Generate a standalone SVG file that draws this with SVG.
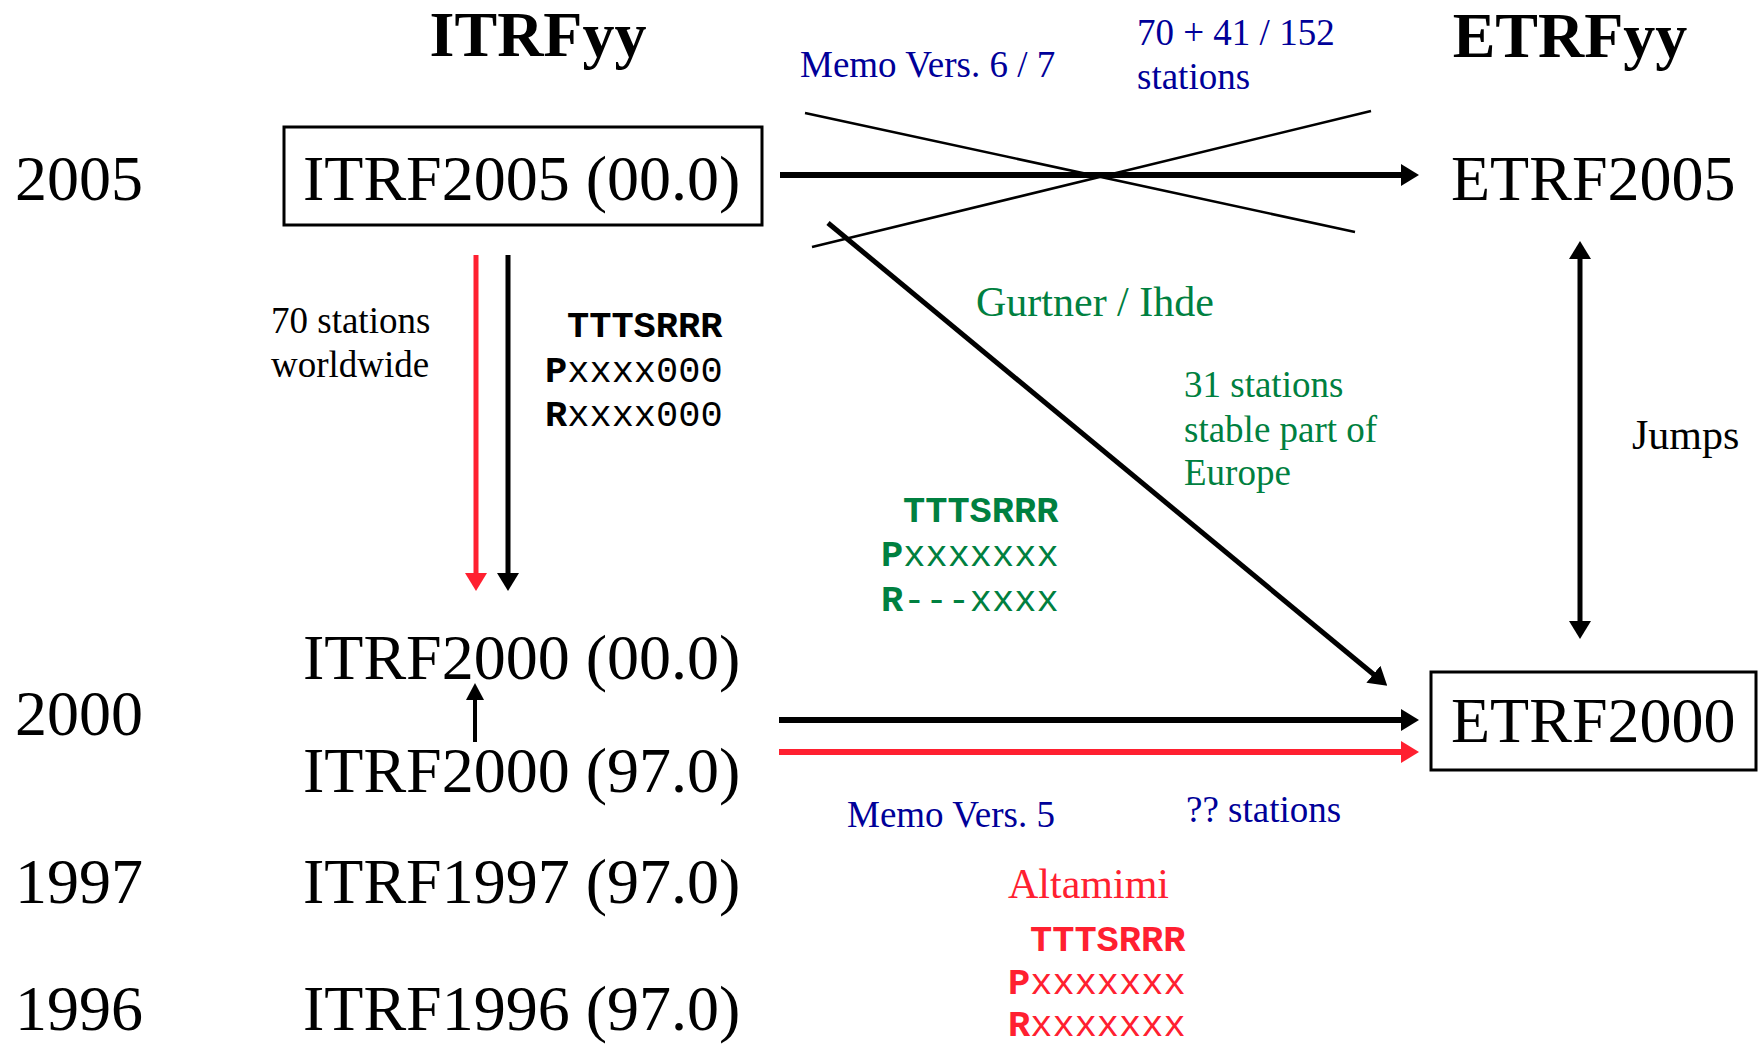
<svg xmlns="http://www.w3.org/2000/svg" width="1759" height="1044" viewBox="0 0 1759 1044">
  <style>
    text { font-family: "Liberation Serif", "Times New Roman", serif; }
    .title { font-size: 64px; font-weight: bold; fill: #000; }
    .big { font-size: 64px; fill: #000; }
    .lbl { font-size: 37px; }
    .lbl42 { font-size: 42px; }
    .mono { font-family: "Liberation Mono", "Courier New", monospace; font-size: 37px; }
    .b { font-weight: bold; }
    .blue { fill: #000099; }
    .green { fill: #008040; }
    .red { fill: #ff2030; }
    .black { fill: #000; }
    .box { fill: #fff; stroke: #000; stroke-width: 3; }
    .ln { fill: none; stroke: #000; }
  </style>
  <defs>
    <marker id="ahK" viewBox="0 0 18 22" markerUnits="userSpaceOnUse" markerWidth="18" markerHeight="22" refX="6" refY="11" orient="auto-start-reverse">
      <path d="M0,0 L18,11 L0,22 z" fill="#000"/>
    </marker>
    <marker id="ahR" viewBox="0 0 18 22" markerUnits="userSpaceOnUse" markerWidth="18" markerHeight="22" refX="6" refY="11" orient="auto">
      <path d="M0,0 L18,11 L0,22 z" fill="#ff2030"/>
    </marker>
    <marker id="ahS" viewBox="0 0 17 18" markerUnits="userSpaceOnUse" markerWidth="17" markerHeight="18" refX="5" refY="9" orient="auto">
      <path d="M0,0 L17,9 L0,18 z" fill="#000"/>
    </marker>
  </defs>

  <!-- column titles -->
  <g id="title-itrf"><text class="title" x="538" y="56" text-anchor="middle">ITRFyy</text></g>
  <g id="title-etrf"><text class="title" x="1570" y="57" text-anchor="middle">ETRFyy</text></g>

  <!-- years -->
  <g id="year-2005"><text class="big" x="15" y="200">2005</text></g>
  <g id="year-2000"><text class="big" x="15" y="735">2000</text></g>
  <g id="year-1997"><text class="big" x="15" y="903">1997</text></g>
  <g id="year-1996"><text class="big" x="15" y="1030">1996</text></g>

  <!-- nodes -->
  <g id="itrf2005">
    <rect class="box" x="284" y="127" width="478" height="98"/>
    <text class="big" x="303" y="200">ITRF2005 (00.0)</text>
  </g>
  <g id="itrf2000-00"><text class="big" x="303" y="679">ITRF2000 (00.0)</text></g>
  <g id="itrf2000-97"><text class="big" x="303" y="792">ITRF2000 (97.0)</text></g>
  <g id="itrf1997"><text class="big" x="303" y="903">ITRF1997 (97.0)</text></g>
  <g id="itrf1996"><text class="big" x="303" y="1030">ITRF1996 (97.0)</text></g>
  <g id="etrf2005"><text class="big" x="1451" y="200">ETRF2005</text></g>
  <g id="etrf2000">
    <rect class="box" x="1431" y="672" width="325" height="98"/>
    <text class="big" x="1451" y="742">ETRF2000</text>
  </g>

  <!-- connectors -->
  <g id="connectors">
    <line class="ln" x1="805" y1="113" x2="1355" y2="232" stroke-width="2.5"/>
    <line class="ln" x1="812" y1="247" x2="1371" y2="111" stroke-width="2.5"/>
    <line class="ln" x1="780" y1="175" x2="1407" y2="175" stroke-width="6" marker-end="url(#ahK)"/>
    <line class="ln" x1="828" y1="223" x2="1378" y2="678" stroke-width="5" marker-end="url(#ahK)"/>
    <line x1="476" y1="255" x2="476" y2="579" stroke="#ff2030" stroke-width="5" marker-end="url(#ahR)"/>
    <line class="ln" x1="508" y1="255" x2="508" y2="579" stroke-width="5" marker-end="url(#ahK)"/>
    <line class="ln" x1="475" y1="742" x2="475" y2="695" stroke-width="4" marker-end="url(#ahS)"/>
    <line class="ln" x1="1580" y1="253" x2="1580" y2="627" stroke-width="5" marker-start="url(#ahK)" marker-end="url(#ahK)"/>
    <line class="ln" x1="779" y1="720" x2="1407" y2="720" stroke-width="6" marker-end="url(#ahK)"/>
    <line x1="779" y1="752" x2="1407" y2="752" stroke="#ff2030" stroke-width="6" marker-end="url(#ahR)"/>
  </g>

  <!-- labels -->
  <g id="label-70-worldwide" class="black">
    <text class="lbl" x="271" y="333">70 stations</text>
    <text class="lbl" x="271" y="377">worldwide</text>
  </g>
  <g id="code-black" class="black">
    <text class="mono b" x="567" y="337">TTTSRRR</text>
    <text class="mono" x="545" y="382"><tspan class="b">P</tspan>xxxx000</text>
    <text class="mono" x="545" y="426"><tspan class="b">R</tspan>xxxx000</text>
  </g>
  <g id="label-memo67" class="blue">
    <text class="lbl" x="800" y="77">Memo Vers. 6 / 7</text>
  </g>
  <g id="label-70-41-152" class="blue">
    <text class="lbl" x="1137" y="45">70 + 41 / 152</text>
    <text class="lbl" x="1137" y="89">stations</text>
  </g>
  <g id="label-gurtner" class="green">
    <text class="lbl42" x="976" y="316">Gurtner / Ihde</text>
  </g>
  <g id="label-31" class="green">
    <text class="lbl" x="1184" y="397">31 stations</text>
    <text class="lbl" x="1184" y="442">stable part of</text>
    <text class="lbl" x="1184" y="485">Europe</text>
  </g>
  <g id="code-green" class="green">
    <text class="mono b" x="903" y="522">TTTSRRR</text>
    <text class="mono" x="881" y="566"><tspan class="b">P</tspan>xxxxxxx</text>
    <text class="mono" x="881" y="611"><tspan class="b">R</tspan>---xxxx</text>
  </g>
  <g id="label-jumps" class="black">
    <text class="lbl42" x="1632" y="449">Jumps</text>
  </g>
  <g id="label-memo5" class="blue">
    <text class="lbl" x="847" y="827">Memo Vers. 5</text>
  </g>
  <g id="label-qq" class="blue">
    <text class="lbl" x="1186" y="822">?? stations</text>
  </g>
  <g id="label-altamimi" class="red">
    <text class="lbl42" x="1008" y="898">Altamimi</text>
  </g>
  <g id="code-red" class="red">
    <text class="mono b" x="1030" y="951">TTTSRRR</text>
    <text class="mono" x="1008" y="994"><tspan class="b">P</tspan>xxxxxxx</text>
    <text class="mono" x="1008" y="1036"><tspan class="b">R</tspan>xxxxxxx</text>
  </g>
</svg>
